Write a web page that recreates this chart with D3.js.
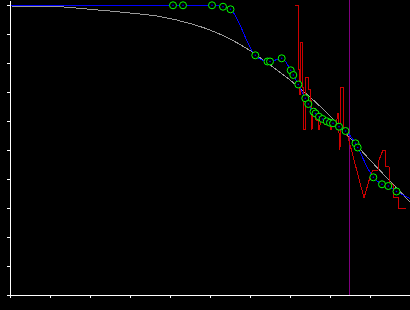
<!DOCTYPE html>
<html>
<head>
<meta charset="utf-8">
<script src="https://cdn.jsdelivr.net/npm/d3@7"></script>
<style>
html,body{margin:0;padding:0;background:#000;}
svg{display:block;}
</style>
</head>
<body>
<svg id="chart" width="410" height="310"></svg>
<script>
// ---- data ----
const xTicks = [0,1,2,3,4,5,6,7,8,9,10];
const yTicks = [0,1,2,3,4,5,6,7,8,9,10];

const refX = [0,1,2,3,3.75,4.5,5,5.5,6,6.5,7,7.5,8,8.5,9,9.5,10];
const refY = [9.966,9.955,9.852,9.724,9.603,9.362,9.138,8.828,8.431,7.931,7.414,6.828,6.172,5.414,4.655,3.931,3.207];

const fitX = [0,4.075,4.325,5.05,5.325,5.5125,6.1325,6.4375,6.5,6.7925,7.0175,7.0825,7.2075,7.3825,7.4575,7.5875,7.6375,7.725,7.8125,7.9175,8.0,8.075,8.225,8.3875,8.6375,8.6925,9.0825,9.3,9.4575,9.6625,10.05];
const fitY = [9.99,9.99,9.99,9.99,9.941,9.852,8.266,8.052,8.052,8.162,7.748,7.586,7.259,6.783,6.586,6.321,6.259,6.148,6.069,5.990,5.941,5.921,5.803,5.655,5.231,5.086,4.059,3.817,3.759,3.569,3.3];
// points that carry a marker (all except the line's two ends)
const markerIdx = d3.range(1, fitX.length - 1);

const obsX = [7.125,7.2,7.2,7.225,7.225,7.25,7.25,7.3,7.3,7.3375,7.35,7.375,7.375,7.45,7.45,7.5,7.5,7.525,7.55,7.575,7.625,7.65,7.7,7.725,7.8,7.875,7.95,8.025,8.1,8.15,8.2,8.225,8.25,8.2625,8.325,8.325,8.375,8.45,8.85,9.0,9.075,9.2,9.225,9.325,9.375,9.375,9.475,9.5,9.575,9.575,9.7,9.7,9.9];
const obsY = [10.0,10.0,7.759,7.759,6.897,6.897,8.724,8.724,7.138,7.138,5.690,5.690,7.517,7.517,7.069,7.069,6.724,6.724,5.690,6.448,6.448,6.034,6.034,5.690,6.207,5.862,6.103,5.690,6.034,5.862,6.276,5.586,5.0,7.172,7.172,5.690,5.586,5.448,3.345,4.069,4.310,4.310,4.655,5.0,5.0,4.414,4.414,3.862,3.793,3.379,3.379,3.0,3.0];

const markerLineX = [8.4875];

// ---- chart ----
const W = 410, H = 310;
const yMax = 295 / 29;
const svg = d3.select("#chart");
svg.append("rect").attr("width", W).attr("height", H).attr("fill", "#000");

const x = d3.scaleLinear().domain([0, 10]).range([10, 410]);
const y = d3.scaleLinear().domain([0, yMax]).range([295, 0]);

svg.append("clipPath").attr("id", "clip")
  .append("rect").attr("x", 10).attr("y", 0).attr("width", 400).attr("height", 295);

const plot = svg.append("g").attr("clip-path", "url(#clip)");

// reference curve
plot.append("path")
  .datum(refX.map((v, i) => [v, refY[i]]))
  .attr("fill", "none").attr("stroke", "#9a9a9a").attr("stroke-width", 1)
  .attr("shape-rendering", "crispEdges")
  .attr("d", d3.line().x(d => x(d[0])).y(d => y(d[1])).curve(d3.curveMonotoneX));

// vertical marker line
plot.selectAll("line.vmark").data(markerLineX).join("line")
  .attr("class", "vmark")
  .attr("x1", d => x(d)).attr("x2", d => x(d))
  .attr("y1", y(yMax)).attr("y2", y(0))
  .attr("stroke", "#800080").attr("stroke-width", 1)
  .attr("shape-rendering", "crispEdges");

// observed (red) line
plot.append("path")
  .datum(obsX.map((v, i) => [v, obsY[i]]))
  .attr("fill", "none").attr("stroke", "#cc0000").attr("stroke-width", 1)
  .attr("shape-rendering", "crispEdges")
  .attr("d", d3.line().x(d => x(d[0])).y(d => y(d[1])));

// fitted (blue) line
plot.append("path")
  .datum(fitX.map((v, i) => [v, fitY[i]]))
  .attr("fill", "none").attr("stroke", "#0000ff").attr("stroke-width", 1)
  .attr("shape-rendering", "crispEdges")
  .attr("d", d3.line().x(d => x(d[0])).y(d => y(d[1])).curve(d3.curveMonotoneX));

// markers
const mk = plot.selectAll("g.mk").data(markerIdx).join("g").attr("class", "mk")
  .attr("transform", i => `translate(${x(fitX[i])},${y(fitY[i])})`);
mk.append("circle").attr("r", 3.5).attr("fill", "#000").attr("stroke", "#00ff00").attr("stroke-width", 1);
mk.append("circle").attr("r", 0.8).attr("fill", "#0000ff");

// axes
const ax = svg.append("g").attr("transform", "translate(10,0)")
  .call(d3.axisLeft(y).tickValues(yTicks).tickSize(3).tickSizeOuter(0).tickFormat(""));
const bx = svg.append("g").attr("transform", "translate(0,295)")
  .call(d3.axisBottom(x).tickValues(xTicks).tickSize(3).tickSizeOuter(0).tickFormat(""));
[ax, bx].forEach(g => {
  g.selectAll("path,line").attr("stroke", "#fff").attr("stroke-width", 1).attr("shape-rendering", "crispEdges");
});
</script>
</body>
</html>
